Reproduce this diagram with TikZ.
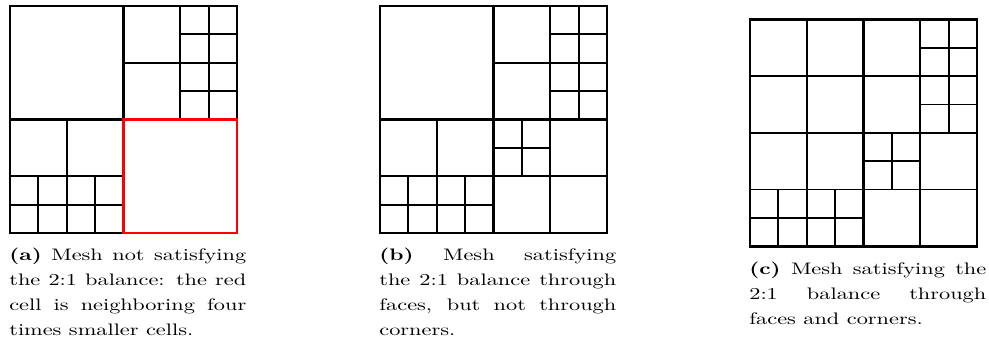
\documentclass[tikz,border=0pt]{standalone}
\usepackage{graphicx}
\usepackage{tikz}
\newcommand{\subcap}[2]{\scalebox{1.34}[1]{\parbox[t]{106.1pt}{\textbf{(#1)} #2}}}

\begin{document}
\begin{tikzpicture}[x=0.6pt, y=-0.6pt,
  cellline/.style={line width=1.1pt},
  quadline/.style={line width=1.4pt},
  frameline/.style={line width=1.5pt},
  redcell/.style={draw=red, line width=1.5pt},
  caption/.style={anchor=north west, inner sep=0pt, font=\fontsize{10pt}{15pt}\selectfont}]
\useasboundingbox (0,0) rectangle (989,345);
% parts that all three meshes share
\foreach \px/\py in {10/6, 380/6, 750/19.3} {
  \begin{scope}[shift={(\px,\py)}, x=17.025pt, y=-17.025pt]
    \draw[cellline] (6,0) -- (6,4) (4,2) -- (8,2);
    \draw[cellline] (7,0) -- (7,4) (6,1) -- (8,1) (6,3) -- (8,3);
    \draw[cellline] (2,4) -- (2,8) (0,6) -- (4,6);
    \draw[cellline] (1,6) -- (1,8) (3,6) -- (3,8) (0,7) -- (4,7);
    \draw[quadline] (4,0) -- (4,8) (0,4) -- (8,4);
  \end{scope}
}
% (a): the red cell
\begin{scope}[shift={(10,6)}, x=17.025pt, y=-17.025pt]
  \draw[frameline] (0,0) rectangle (8,8);
  \draw[redcell] (4,4) rectangle (8,8);
\end{scope}
% (b): face balance only
\begin{scope}[shift={(380,6)}, x=17.025pt, y=-17.025pt]
  \draw[cellline] (6,4) -- (6,8) (4,6) -- (8,6);
  \draw[cellline] (5,4) -- (5,6) (4,5) -- (6,5);
  \draw[frameline] (0,0) rectangle (8,8);
\end{scope}
% (c): faces and corners
\begin{scope}[shift={(750,19.3)}, x=17.025pt, y=-17.025pt]
  \draw[cellline] (2,0) -- (2,4) (0,2) -- (4,2);
  \draw[cellline] (6,4) -- (6,8) (4,6) -- (8,6);
  \draw[cellline] (5,4) -- (5,6) (4,5) -- (6,5);
  \draw[frameline] (0,0) rectangle (8,8);
\end{scope}
\node[caption] (capa) at (9,248) {\subcap{a}{Mesh not satisfying\linebreak the 2:1 balance: the red\linebreak cell is neighboring four\linebreak times smaller cells.}};
\node[caption] (capb) at (379,248) {\subcap{b}{Mesh satisfying\linebreak the 2:1 balance through\linebreak faces, but not through\linebreak corners.}};
\node[caption] (capc) at (749,262) {\subcap{c}{Mesh satisfying the\linebreak 2:1 balance through\linebreak faces and corners.}};
\end{tikzpicture}
\end{document}
